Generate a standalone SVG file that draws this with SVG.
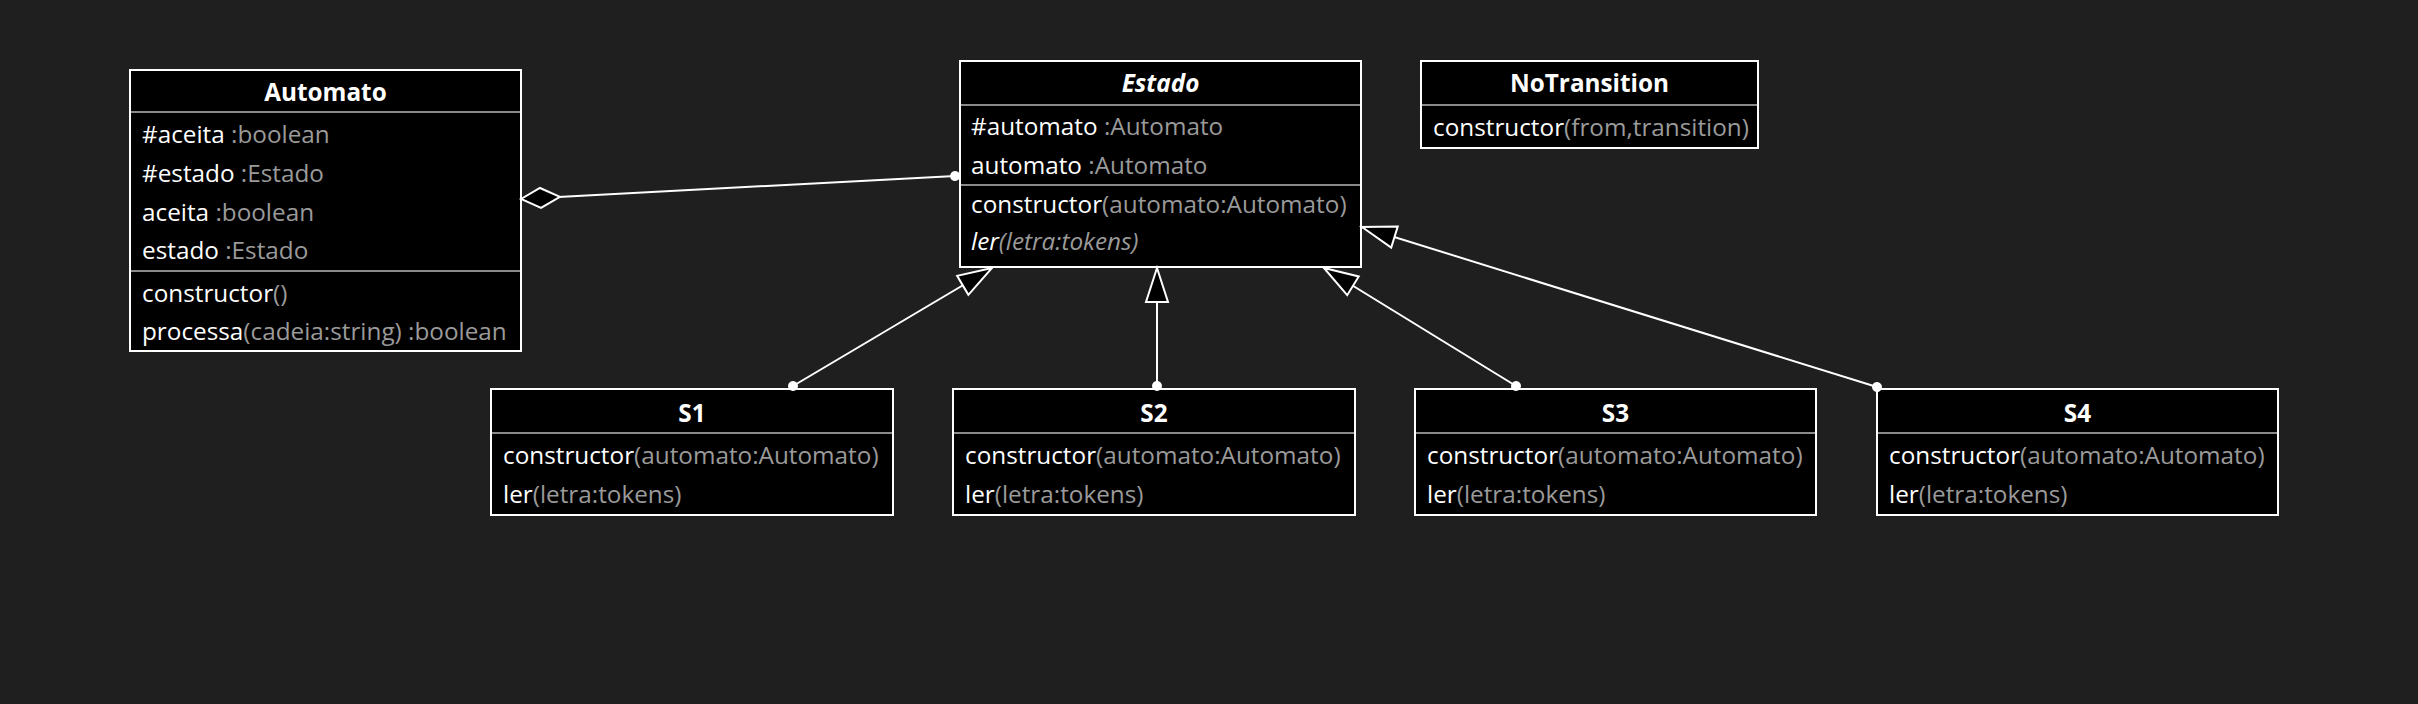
<svg xmlns="http://www.w3.org/2000/svg" width="2418" height="704" viewBox="0 0 2418 704">
<style>
text{font-family:"Open Sans","Noto Sans","Liberation Sans",sans-serif;font-size:24.3px;fill:#ffffff}
.t{font-weight:bold;text-anchor:middle}
.ti{font-weight:bold;font-style:italic;text-anchor:middle}
.g{fill:#9a9a9a}
.box{fill:#000000;stroke:#ffffff;stroke-width:2}
.div{stroke:#8a8a8a;stroke-width:2}
.edge{fill:none;stroke:#ffffff;stroke-width:2}
</style>
<defs>
<marker id="diamond" markerUnits="userSpaceOnUse" viewBox="-2 -12 44 24" markerWidth="44" markerHeight="24" refX="0" refY="0" orient="auto" overflow="visible">
<path d="M0,0 L19.5,-10 L39,0 L19.5,10 Z" fill="#000" stroke="#fff" stroke-width="2"/>
</marker>
<marker id="dot" markerUnits="userSpaceOnUse" viewBox="-6 -6 12 12" markerWidth="12" markerHeight="12" refX="0" refY="0" orient="auto" overflow="visible">
<circle cx="0" cy="0" r="5" fill="#fff"/>
</marker>
<marker id="tri" markerUnits="userSpaceOnUse" viewBox="-36 -13 38 26" markerWidth="38" markerHeight="26" refX="0" refY="0" orient="auto" overflow="visible">
<path d="M0,0 L-34,-11 L-34,11 Z" fill="#000" stroke="#fff" stroke-width="2"/>
</marker>
</defs>
<rect width="2418" height="704" fill="#1f1f1f"/>

<g id="Automato">
<rect class="box" x="130" y="70" width="391" height="281"/>
<line class="div" x1="131" y1="112" x2="520" y2="112"/>
<line class="div" x1="131" y1="271" x2="520" y2="271"/>
<text class="t" x="325.5" y="101">Automato</text>
<text x="142" y="143">#aceita<tspan class="g"> :boolean</tspan></text>
<text x="142" y="182">#estado<tspan class="g"> :Estado</tspan></text>
<text x="142" y="221">aceita<tspan class="g"> :boolean</tspan></text>
<text x="142" y="259">estado<tspan class="g"> :Estado</tspan></text>
<text x="142" y="302">constructor<tspan class="g">()</tspan></text>
<text x="142" y="340">processa<tspan class="g">(cadeia:string) :boolean</tspan></text>
</g>

<g id="Estado">
<rect class="box" x="960" y="61" width="401" height="206"/>
<line class="div" x1="961" y1="105" x2="1360" y2="105"/>
<line class="div" x1="961" y1="185" x2="1360" y2="185"/>
<text class="ti" x="1160.5" y="92">Estado</text>
<text x="971" y="135">#automato<tspan class="g"> :Automato</tspan></text>
<text x="971" y="174">automato<tspan class="g"> :Automato</tspan></text>
<text x="971" y="213">constructor<tspan class="g">(automato:Automato)</tspan></text>
<text x="971" y="250" font-style="italic">ler<tspan class="g">(letra:tokens)</tspan></text>
</g>

<g id="NoTransition">
<rect class="box" x="1421" y="61" width="337" height="87"/>
<line class="div" x1="1422" y1="105" x2="1757" y2="105"/>
<text class="t" x="1589.5" y="92">NoTransition</text>
<text x="1433" y="136">constructor<tspan class="g">(from,transition)</tspan></text>
</g>

<g id="S1">
<rect class="box" x="491" y="389" width="402" height="126"/>
<line class="div" x1="492" y1="433" x2="892" y2="433"/>
<text class="t" x="692" y="422">S1</text>
<text x="503" y="464">constructor<tspan class="g">(automato:Automato)</tspan></text>
<text x="503" y="503">ler<tspan class="g">(letra:tokens)</tspan></text>
</g>

<g id="S2">
<rect class="box" x="953" y="389" width="402" height="126"/>
<line class="div" x1="954" y1="433" x2="1354" y2="433"/>
<text class="t" x="1154" y="422">S2</text>
<text x="965" y="464">constructor<tspan class="g">(automato:Automato)</tspan></text>
<text x="965" y="503">ler<tspan class="g">(letra:tokens)</tspan></text>
</g>

<g id="S3">
<rect class="box" x="1415" y="389" width="401" height="126"/>
<line class="div" x1="1416" y1="433" x2="1815" y2="433"/>
<text class="t" x="1615.5" y="422">S3</text>
<text x="1427" y="464">constructor<tspan class="g">(automato:Automato)</tspan></text>
<text x="1427" y="503">ler<tspan class="g">(letra:tokens)</tspan></text>
</g>

<g id="S4">
<rect class="box" x="1877" y="389" width="401" height="126"/>
<line class="div" x1="1878" y1="433" x2="2277" y2="433"/>
<text class="t" x="2077.5" y="422">S4</text>
<text x="1889" y="464">constructor<tspan class="g">(automato:Automato)</tspan></text>
<text x="1889" y="503">ler<tspan class="g">(letra:tokens)</tspan></text>
</g>

<g id="connectors">
<path class="edge" d="M521,199 L955,176" marker-start="url(#diamond)" marker-end="url(#dot)"/>
<path class="edge" d="M793,386 L992,268" marker-start="url(#dot)" marker-end="url(#tri)"/>
<path class="edge" d="M1157,386 L1157,268" marker-start="url(#dot)" marker-end="url(#tri)"/>
<path class="edge" d="M1516,386 L1324,268" marker-start="url(#dot)" marker-end="url(#tri)"/>
<path class="edge" d="M1877,387 L1362,227" marker-start="url(#dot)" marker-end="url(#tri)"/>
</g>
</svg>
